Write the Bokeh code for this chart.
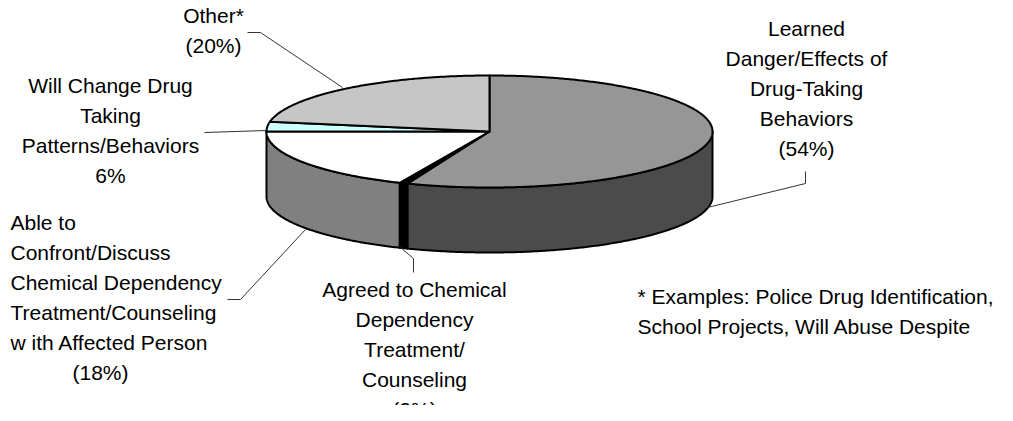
import numpy as np
from bokeh.plotting import figure
from bokeh.models import Range1d
from bokeh.core.properties import value
from bokeh.embed import file_html
from bokeh.resources import INLINE

# ---- data ----
categories = [
    "Learned Danger/Effects of Drug-Taking Behaviors",
    "Agreed to Chemical Dependency Treatment/Counseling",
    "Able to Confront/Discuss Chemical Dependency Treatment/Counseling with Affected Person",
    "Will Change Drug Taking Patterns/Behaviors",
    "Other*",
]
# slice shares as drawn in the picture (percent of the circle)
slice_share = [56.0, 0.6, 18.4, 2.8, 22.2]
# label texts (as printed on the chart)
label_learned = ["Learned", "Danger/Effects of", "Drug-Taking", "Behaviors", "(54%)"]
label_agreed = ["Agreed to Chemical", "Dependency", "Treatment/", "Counseling", "(2%)"]
label_able = ["Able to", "Confront/Discuss", "Chemical Dependency",
              "Treatment/Counseling", "w ith Affected Person"]
label_able_pct = ["(18%)"]
label_will = ["Will Change Drug", "Taking", "Patterns/Behaviors", "6%"]
label_other = ["Other*", "(20%)"]
footnote = ["* Examples: Police Drug Identification,",
            "School Projects, Will Abuse Despite"]

top_colors = ["#969696", "#000000", "#ffffff", "#ccffff", "#c6c6c6"]
side_colors = ["#4b4b4b", "#000000", "#808080", "#99cccc", "#999999"]

# ---- figure (coordinates = window pixels) ----
W, H = 997, 405
p = figure(width=W, height=H, output_backend="svg", toolbar_location=None,
           x_range=Range1d(0, W), y_range=Range1d(H, 0),
           x_axis_type=None, y_axis_type=None, min_border=0)
p.grid.visible = False
p.outline_line_color = None
p.background_fill_color = "white"
p.border_fill_color = "white"

cx, cy, rx, ry, depth = 489.0, 131.0, 223.0, 56.0, 65.0

def pt(theta_deg, dy=0.0):
    t = np.radians(theta_deg)
    return cx + rx * np.sin(t), cy - ry * np.cos(t) + dy

cum = np.concatenate([[0], np.cumsum(slice_share)]) / np.sum(slice_share) * 360.0

# sides (visible front half: 90..270 deg clockwise from top)
side_xs, side_ys, side_c = [], [], []
for i in range(len(slice_share)):
    a0, a1 = max(cum[i], 90.0), min(cum[i + 1], 270.0)
    if a1 <= a0:
        continue
    th = np.linspace(a0, a1, max(4, int((a1 - a0) * 2)))
    xt, yt = pt(th)
    xb, yb = pt(th[::-1], depth)
    side_xs.append(list(xt) + list(xb))
    side_ys.append(list(yt) + list(yb))
    side_c.append(side_colors[i])
p.patches(side_xs, side_ys, fill_color=side_c, line_color="black", line_width=2,
          line_join="round")

# top faces
top_xs, top_ys = [], []
for i in range(len(slice_share)):
    th = np.linspace(cum[i], cum[i + 1], max(4, int((cum[i + 1] - cum[i]) * 2)))
    xt, yt = pt(th)
    top_xs.append([cx] + list(xt))
    top_ys.append([cy] + list(yt))
p.patches(top_xs, top_ys, fill_color=top_colors, line_color="black", line_width=2,
          line_join="round")

# leader lines
leaders = [
    ([247, 260, 342], [32, 32, 87]),      # Other
    ([204, 266], [132, 130]),             # Will change
    ([227, 240, 305], [299, 299, 229]),   # Able
    ([400, 413, 413], [247, 258, 272]),   # Agreed
    ([707, 805, 805], [207, 183, 171]),   # Learned
]
p.multi_line([l[0] for l in leaders], [l[1] for l in leaders],
             line_color="#333333", line_width=1)

FONT = value("Liberation Sans")
FS = "21px"
TY = -8  # text baseline correction

def put(lines, x, y0, align, step=30):
    p.text(x=[x] * len(lines), y=[y0 + TY + k * step for k in range(len(lines))],
           text=lines, text_font=FONT, text_font_size=FS, text_align=align,
           text_baseline="alphabetic", text_color="black")

put(label_other, 213, 23, "center")
put(label_will, 110, 93, "center")
put(label_able, 10, 230, "left")
put(label_able_pct, 100, 380, "center")
put(label_agreed, 414, 297, "center")
put(label_learned, 806, 36, "center")
put(footnote, 637, 304, "left")

open("out.html", "w").write(file_html(p, INLINE))
